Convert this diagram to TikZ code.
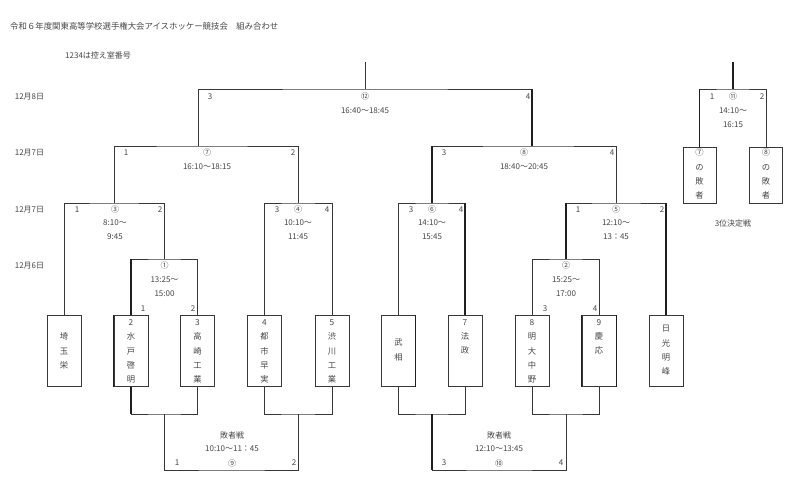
\documentclass[tikz,border=0pt]{standalone}
\usepackage{fontspec}
\setmainfont{Noto Sans CJK JP}
\begin{document}
\begin{tikzpicture}[x=1pt,y=-1pt,
  ln/.style={draw=black!78, line width=0.6pt},
  thk/.style={draw=black!88, line width=1.3pt},
  txt/.style={text=black!72, font=\fontsize{8}{9}\selectfont, inner sep=0pt},
  vtxt/.style={text=black!72, font=\fontsize{8.3}{14.3}\selectfont, inner sep=0pt, align=center},
  teambox/.style={draw=black!78, line width=0.6pt, minimum width=34pt, minimum height=71pt, inner sep=0pt},
  losebox/.style={draw=black!78, line width=0.6pt, minimum width=33pt, minimum height=56pt, inner sep=0pt}]
\fill[white] (0,0) rectangle (800,500);
\useasboundingbox (0,0) rectangle (800,500);

% titles
\node[txt, anchor=west, font=\fontsize{8.4}{9}\selectfont] (title) at (10,26) {令和６年度関東高等学校選手権大会アイスホッケー競技会　組み合わせ};
\node[txt, anchor=west] (note) at (65,55) {1234は控え室番号};
\node[txt] (d1) at (29.5,97) {12月8日};
\node[txt] (d2) at (29.5,153) {12月7日};
\node[txt] (d3) at (29.5,210) {12月7日};
\node[txt] (d4) at (29.5,266) {12月6日};

% team boxes
\node[teambox] (t1) at (64,351) {};
\node[teambox] (t2) at (131,351) {};
\node[teambox] (t3) at (197.5,351) {};
\node[teambox] (t4) at (264.5,351) {};
\node[teambox] (t5) at (332,351) {};
\node[teambox] (t6) at (398.5,351) {};
\node[teambox] (t7) at (465,351) {};
\node[teambox] (t8) at (532,351) {};
\node[teambox] (t9) at (599,351) {};
\node[teambox] (t10) at (666,351) {};
\node[vtxt] (n1) at (64,351) {埼\\玉\\栄};
\node[vtxt] (n2) at (131,351.5) {2\\水\\戸\\啓\\明};
\node[vtxt] (n3) at (197.5,351.5) {3\\高\\崎\\工\\業};
\node[vtxt] (n4) at (264.5,351.5) {4\\都\\市\\早\\実};
\node[vtxt] (n5) at (332,351.5) {5\\渋\\川\\工\\業};
\node[vtxt] (n6) at (398.5,350) {武\\相};
\node[vtxt] (n7) at (465,337) {7\\法\\政};
\node[vtxt] (n8) at (532,351.5) {8\\明\\大\\中\\野};
\node[vtxt] (n9) at (599,337) {9\\慶\\応};
\node[vtxt] (n10) at (666,350.5) {日\\光\\明\\峰};

% loser boxes for 3rd place
\node[losebox] (l7) at (699.5,175) {};
\node[losebox] (l8) at (766,175) {};
\node[vtxt] (nl7) at (699.5,174) {⑦\\の\\敗\\者};
\node[vtxt] (nl8) at (766,174) {⑧\\の\\敗\\者};

% match junctions
\coordinate (m1) at (164.5,259);
\coordinate (m2) at (566,259);
\coordinate (m3) at (114,203);
\coordinate (m4) at (298,203);
\coordinate (m5) at (616,203);
\coordinate (m6) at (432,203);
\coordinate (m7) at (198,146);
\coordinate (m8) at (532,146);
\coordinate (m12) at (365,89);
\coordinate (top12) at (365,62);
\coordinate (m11) at (733,89);
\coordinate (top11) at (733,62);
\coordinate (b1) at (164.5,414);
\coordinate (b4) at (298,414);
\coordinate (b6) at (432,414);
\coordinate (b2) at (566,414);
\coordinate (m9) at (232,470);
\coordinate (m10) at (499,470);

% bracket lines
\draw[ln] (t2.north) |- (m1) -| (t3.north);
\draw[ln] (t1.north) |- (m3) -| (m1);
\draw[ln] (t4.north) |- (m4) -| (t5.north);
\draw[ln] (m3) |- (m7) -| (m4);
\draw[ln] (t6.north) |- (m6) -| (t7.north);
\draw[ln] (t8.north) |- (m2) -| (t9.north);
\draw[ln] (m2) |- (m5) -| (t10.north);
\draw[ln] (m6) |- (m8) -| (m5);
\draw[ln] (m7) |- (m12) -| (m8);
\draw[ln] (m12) -- (top12);
\draw[ln] (l7.north) |- (m11) -| (l8.north);
\draw[ln] (m11) -- (top11);
% losers' brackets
\draw[ln] (t2.south) |- (b1) -| (t3.south);
\draw[ln] (t4.south) |- (b4) -| (t5.south);
\draw[ln] (b1) |- (m9) -| (b4);
\draw[ln] (t6.south) |- (b6) -| (t7.south);
\draw[ln] (t8.south) |- (b2) -| (t9.south);
\draw[ln] (b6) |- (m10) -| (b2);

% heavier segments
\draw[thk] (m8) -- (m8 |- m12);
\draw[thk] (m6) -- (m6 |- m8);
\draw[thk] (t2.north) -- (t2.north |- m1);
\draw[thk] (t7.north) -- (t7.north |- m6);
\draw[thk] (t10.north) -- (t10.north |- m5);
\draw[thk] (m2) -- (m2 |- m5);
\draw[thk] (l7.north) -- (l7.north |- m11);
\draw[thk] (m11) -- (top11);
\draw[thk] (t2.south) -- (t2.south |- b1);
\draw[thk] (b6) -- (b6 |- m10);
\draw[thk] (t2.north west) -- (t2.south west);
\draw[thk] (t9.north west) -- (t9.south west);
\draw[thk] (t9.north east) -- (t9.south east);
\draw[thk] (t6.north east) -- (t6.south east);

% labels: match 12
\node[txt] (a12l) at (210,97) {3};
\node[txt] (a12) at (365,96) {⑫};
\node[txt] (a12t) at (365,111) {16:40～18:45};
\node[txt] (a12r) at (528,97) {4};
% match 7
\node[txt] (a7l) at (126,153) {1};
\node[txt] (a7) at (207,152) {⑦};
\node[txt] (a7t) at (207,167) {16:10～18:15};
\node[txt] (a7r) at (293,153) {2};
% match 8
\node[txt] (a8l) at (444,153) {3};
\node[txt] (a8) at (524,152) {⑧};
\node[txt] (a8t) at (524,167) {18:40～20:45};
\node[txt] (a8r) at (612,153) {4};
% match 3
\node[txt] (a3l) at (77,210) {1};
\node[txt] (a3) at (115,209) {③};
\node[txt] (a3t) at (115,223) {8:10～};
\node[txt] (a3u) at (115,237) {9:45};
\node[txt] (a3r) at (160,210) {2};
% match 4
\node[txt] (a4l) at (277,210) {3};
\node[txt] (a4) at (298,209) {④};
\node[txt] (a4t) at (298,223) {10:10～};
\node[txt] (a4u) at (298,237) {11:45};
\node[txt] (a4r) at (327,210) {4};
% match 6
\node[txt] (a6l) at (411,210) {3};
\node[txt] (a6) at (432,209) {⑥};
\node[txt] (a6t) at (432,223) {14:10～};
\node[txt] (a6u) at (432,237) {15:45};
\node[txt] (a6r) at (461,210) {4};
% match 5
\node[txt] (a5l) at (578,210) {1};
\node[txt] (a5) at (616,209) {⑤};
\node[txt] (a5t) at (616,223) {12:10～};
\node[txt] (a5u) at (616,237) {13：45};
\node[txt] (a5r) at (662,210) {2};
% match 11
\node[txt] (a11l) at (712,97) {1};
\node[txt] (a11) at (733,96) {⑪};
\node[txt] (a11t) at (733,111) {14:10～};
\node[txt] (a11u) at (733,125) {16:15};
\node[txt] (a11r) at (762,97) {2};
\node[txt] (third) at (733,223) {3位決定戦};
% match 1
\node[txt] (a1) at (164.5,265) {①};
\node[txt] (a1t) at (164.5,280) {13:25～};
\node[txt] (a1u) at (164.5,294) {15:00};
\node[txt] (a1l) at (143,309) {1};
\node[txt] (a1r) at (193,309) {2};
% match 2
\node[txt] (a2) at (566,265) {②};
\node[txt] (a2t) at (566,280) {15:25～};
\node[txt] (a2u) at (566,294) {17:00};
\node[txt] (a2l) at (545,309) {3};
\node[txt] (a2r) at (595,309) {4};
% match 9
\node[txt] (a9h) at (232,435) {敗者戦};
\node[txt] (a9t) at (232,449) {10:10～11：45};
\node[txt] (a9l) at (177,463) {1};
\node[txt] (a9) at (232,463) {⑨};
\node[txt] (a9r) at (294,463) {2};
% match 10
\node[txt] (a10h) at (499,435) {敗者戦};
\node[txt] (a10t) at (499,449) {12:10～13:45};
\node[txt] (a10l) at (444,463) {3};
\node[txt] (a10) at (499,463) {⑩};
\node[txt] (a10r) at (561,463) {4};
\end{tikzpicture}
\end{document}
